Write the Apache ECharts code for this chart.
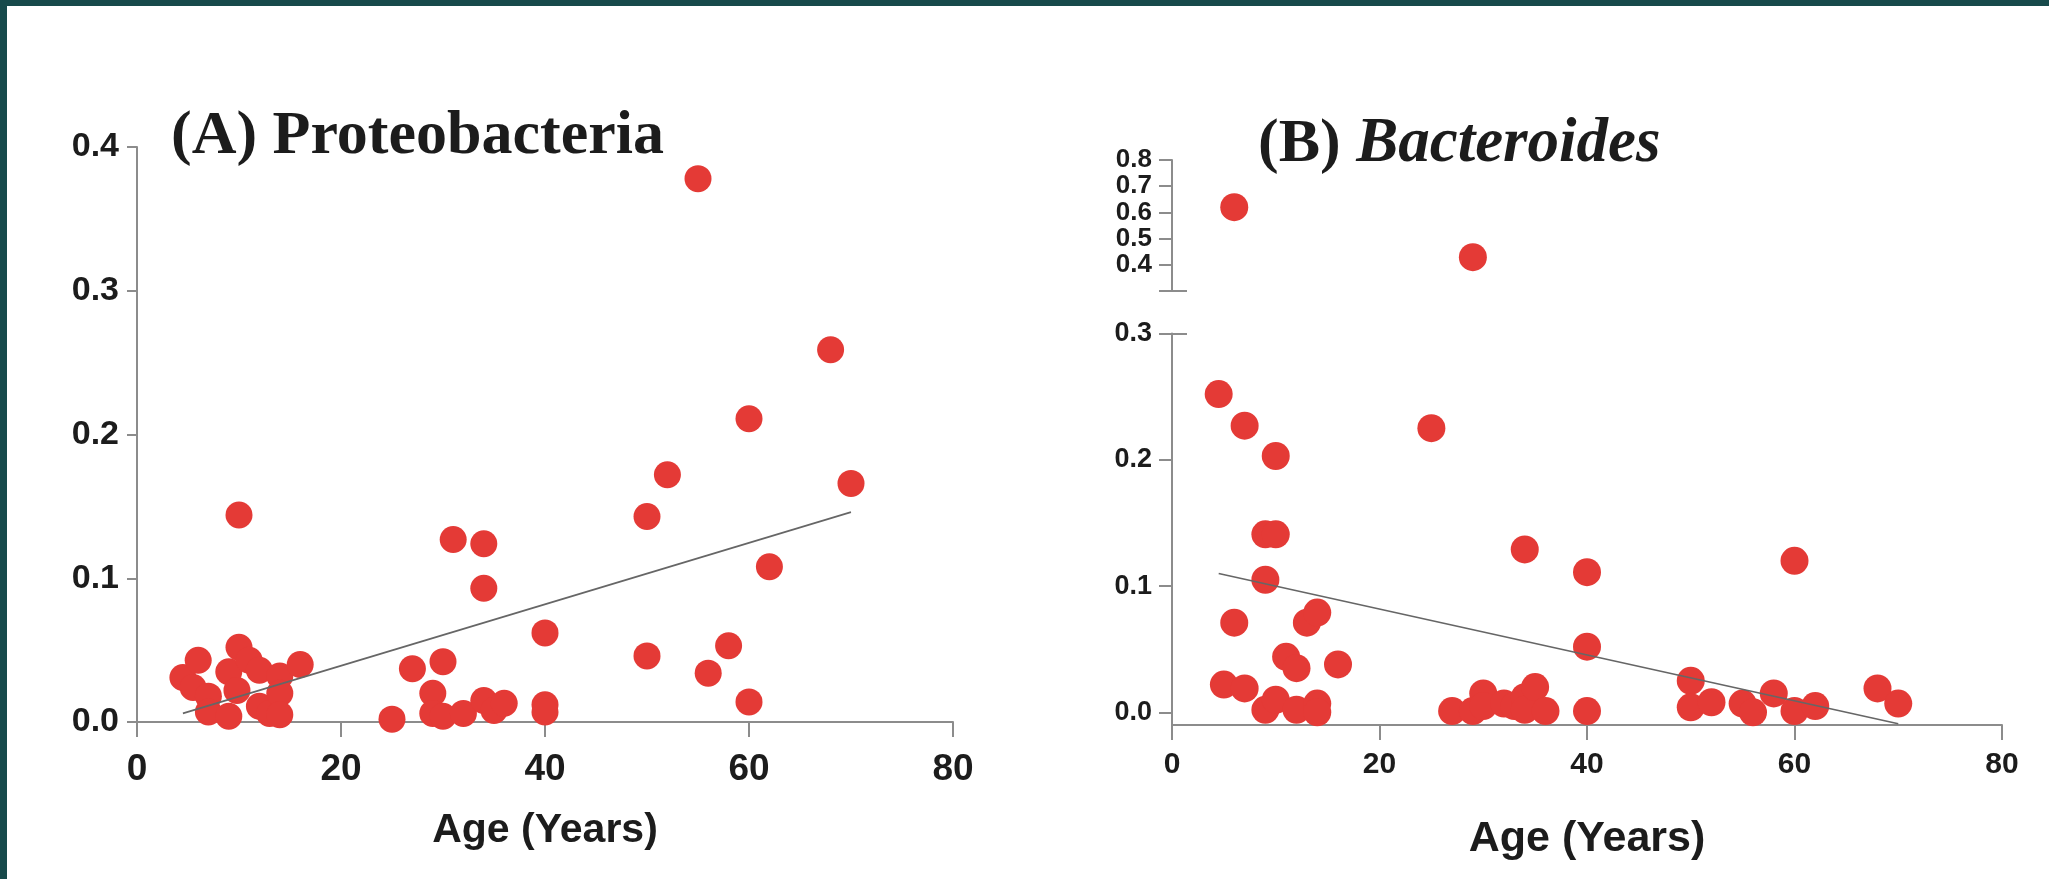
<!DOCTYPE html>
<html>
<head>
<meta charset="utf-8">
<script src="https://cdn.jsdelivr.net/npm/echarts@6/dist/echarts.min.js"></script>
<style>
html,body{margin:0;padding:0;background:#ffffff;}
#chart{width:2049px;height:879px;}
</style>
</head>
<body>
<div id="chart"></div>
<script>
// ---------- data ----------
const ageTicks = [0, 20, 40, 60, 80];

// (A) Proteobacteria
const proteoAge = [4.5, 6, 5.5, 7, 7, 9, 9, 10, 9.8, 11, 12, 12, 13, 14, 14, 14, 16, 10,
  25, 27, 29, 29, 30, 30, 31, 32, 34, 34, 34, 35, 36, 40, 40, 40,
  50, 50, 52, 55, 56, 58, 60, 60, 62, 68, 70];
const proteoAbundance = [0.031, 0.043, 0.024, 0.018, 0.007, 0.004, 0.035, 0.052, 0.022, 0.043, 0.036, 0.011, 0.006, 0.032, 0.020, 0.005, 0.040, 0.144,
  0.002, 0.037, 0.020, 0.006, 0.042, 0.004, 0.127, 0.006, 0.124, 0.093, 0.015, 0.008, 0.013, 0.062, 0.012, 0.007,
  0.143, 0.046, 0.172, 0.378, 0.034, 0.053, 0.211, 0.014, 0.108, 0.259, 0.166];
const proteoTrendAge = [4.5, 70];
const proteoTrendValue = [0.006, 0.146];
const proteoYTicks = [0, 0.1, 0.2, 0.3, 0.4];

// (B) Bacteroides
const bactAge = [4.5, 5, 6, 6, 7, 7, 9, 9, 9, 10, 10, 10, 11, 12, 12, 13, 14, 14, 14, 16,
  25, 27, 29, 29, 30, 30, 32, 33, 34, 34, 34, 35, 36, 40, 40, 40,
  50, 50, 52, 55, 56, 58, 60, 60, 62, 68, 70];
const bactAbundance = [0.252, 0.022, 0.620, 0.071, 0.227, 0.019, 0.141, 0.105, 0.002, 0.141, 0.203, 0.010, 0.044, 0.035, 0.002, 0.071, 0.079, 0.007, 0.000, 0.038,
  0.225, 0.001, 0.429, 0.001, 0.015, 0.005, 0.007, 0.005, 0.129, 0.012, 0.002, 0.020, 0.001, 0.111, 0.052, 0.001,
  0.025, 0.004, 0.008, 0.007, 0.000, 0.015, 0.120, 0.001, 0.005, 0.019, 0.007];
const bactTrendAge = [4.5, 70];
const bactTrendValue = [0.110, -0.009];
const bactLowerTicks = [0, 0.1, 0.2, 0.3];
const bactUpperTicks = [0.4, 0.5, 0.6, 0.7, 0.8];
const breakValue = [0.3];

// ---------- styling ----------
const RED = '#e43a36';
const AXIS = '#8c8c8c';
const TXT = '#1c1c1c';
const SANS = '"Liberation Sans", Arial, sans-serif';
const SERIF = '"Liberation Serif", "Times New Roman", serif';

const zip = (a, b) => a.map((v, i) => [v, b[i]]);
const bactPairs = zip(bactAge, bactAbundance);
const bactUpper = bactPairs.filter(p => p[1] > 0.3);
const bactLower = bactPairs.filter(p => p[1] <= 0.3);
const fmt = v => Number(v).toFixed(1);

function xAxisCfg(grid, fontSize, margin, nameSize, nameGap, show) {
  return {
    gridIndex: grid, type: 'value', min: ageTicks[0], max: ageTicks[ageTicks.length - 1],
    interval: ageTicks[1] - ageTicks[0], show: show,
    axisLine: { show: true, onZero: false, lineStyle: { color: AXIS, width: 2 } },
    axisTick: { show: true, length: 15, lineStyle: { color: AXIS, width: 2 } },
    axisLabel: { fontSize: fontSize, fontWeight: 'bold', fontFamily: SANS, color: TXT, margin: margin },
    splitLine: { show: false },
    name: 'Age (Years)', nameLocation: 'middle', nameGap: nameGap,
    nameTextStyle: { fontSize: nameSize, fontWeight: 'bold', fontFamily: SANS, color: TXT }
  };
}

const option = {
  backgroundColor: '#ffffff',
  animation: false,
  graphic: [
    { type: 'rect', shape: { x: 0, y: 0, width: 2049, height: 6 }, style: { fill: '#174a4b' }, z: 100 },
    { type: 'rect', shape: { x: 0, y: 0, width: 7, height: 879 }, style: { fill: '#174a4b' }, z: 100 }
  ],
  title: [
    { text: '(A) Proteobacteria', left: 171, top: 106, padding: 0,
      textStyle: { fontFamily: SERIF, fontWeight: 'bold', fontSize: 62, color: TXT } },
    { text: '{n|(B) }{i|Bacteroides}', left: 1258, top: 113, padding: 0,
      textStyle: { rich: {
        n: { fontFamily: SERIF, fontWeight: 'bold', fontSize: 62, color: TXT },
        i: { fontFamily: SERIF, fontWeight: 'bold', fontStyle: 'italic', fontSize: 63, color: TXT }
      } } }
  ],
  grid: [
    { left: 137, top: 147, width: 816, height: 575 },
    { left: 1172, top: 160, width: 830, height: 131 },
    { left: 1172, top: 333.5, width: 830, height: 391.5 }
  ],
  xAxis: [
    xAxisCfg(0, 37, 29, 41, 88, true),
    xAxisCfg(1, 30, 25, 43, 93, false),
    xAxisCfg(2, 30, 25, 43, 93, true)
  ],
  yAxis: [
    { gridIndex: 0, type: 'value', min: proteoYTicks[0], max: proteoYTicks[proteoYTicks.length - 1],
      interval: 0.1, position: 'left',
      axisLine: { show: true, onZero: false, lineStyle: { color: AXIS, width: 2 } },
      axisTick: { show: true, length: 10, lineStyle: { color: AXIS, width: 2 } },
      axisLabel: { fontSize: 34, fontWeight: 'bold', fontFamily: SANS, color: TXT, margin: 18, formatter: fmt,
        showMinLabel: true, showMaxLabel: true },
      splitLine: { show: false } },
    { gridIndex: 1, type: 'value', min: breakValue[0], max: bactUpperTicks[bactUpperTicks.length - 1], position: 'left',
      axisLine: { show: true, onZero: false, lineStyle: { color: AXIS, width: 2 } },
      axisTick: { show: true, length: 13, customValues: breakValue.concat(bactUpperTicks), lineStyle: { color: AXIS, width: 2 } },
      axisLabel: { fontSize: 26, fontWeight: 'bold', fontFamily: SANS, color: TXT, margin: 20, customValues: bactUpperTicks, formatter: fmt,
        showMinLabel: true, showMaxLabel: true, hideOverlap: false },
      splitLine: { show: false } },
    { gridIndex: 2, type: 'value', min: -0.01, max: bactLowerTicks[bactLowerTicks.length - 1], position: 'left',
      axisLine: { show: true, onZero: false, lineStyle: { color: AXIS, width: 2 } },
      axisTick: { show: true, length: 13, customValues: bactLowerTicks, lineStyle: { color: AXIS, width: 2 } },
      axisLabel: { fontSize: 27, fontWeight: 'bold', fontFamily: SANS, color: TXT, margin: 20, customValues: bactLowerTicks, formatter: fmt,
        showMinLabel: true, showMaxLabel: true },
      splitLine: { show: false } },
    { gridIndex: 1, type: 'value', min: breakValue[0], max: bactUpperTicks[bactUpperTicks.length - 1], position: 'left',
      axisLine: { show: false, onZero: false },
      axisTick: { show: true, inside: true, length: 15, customValues: breakValue, lineStyle: { color: AXIS, width: 2 } },
      axisLabel: { show: false }, splitLine: { show: false } },
    { gridIndex: 2, type: 'value', min: -0.01, max: bactLowerTicks[bactLowerTicks.length - 1], position: 'left',
      axisLine: { show: false, onZero: false },
      axisTick: { show: true, inside: true, length: 15, customValues: breakValue, lineStyle: { color: AXIS, width: 2 } },
      axisLabel: { show: false }, splitLine: { show: false } }
  ],
  series: [
    { type: 'line', xAxisIndex: 0, yAxisIndex: 0, data: zip(proteoTrendAge, proteoTrendValue),
      showSymbol: false, symbol: 'none', lineStyle: { color: '#666666', width: 1.6 }, silent: true },
    { type: 'scatter', xAxisIndex: 0, yAxisIndex: 0, data: zip(proteoAge, proteoAbundance),
      symbolSize: 27, itemStyle: { color: RED, opacity: 1 } },
    { type: 'line', xAxisIndex: 2, yAxisIndex: 2, data: zip(bactTrendAge, bactTrendValue),
      showSymbol: false, symbol: 'none', lineStyle: { color: '#666666', width: 1.6 }, silent: true },
    { type: 'scatter', xAxisIndex: 1, yAxisIndex: 1, data: bactUpper,
      symbolSize: 28, itemStyle: { color: RED, opacity: 1 } },
    { type: 'scatter', xAxisIndex: 2, yAxisIndex: 2, data: bactLower,
      symbolSize: 28, itemStyle: { color: RED, opacity: 1 } }
  ]
};

const chart = echarts.init(document.getElementById('chart'), null, { renderer: 'canvas' });
chart.setOption(option);
</script>
</body>
</html>
